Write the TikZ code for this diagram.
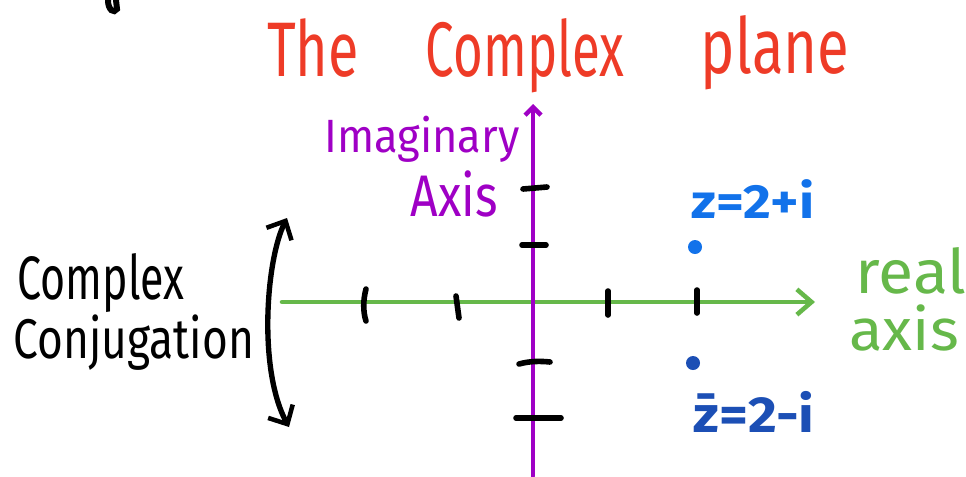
\documentclass[tikz,border=0pt]{standalone}
\usepackage{fontspec}
\setmainfont{Fira Sans}
\usetikzlibrary{arrows.meta}
\definecolor{titlered}{HTML}{EE3B27}
\definecolor{impurple}{HTML}{9F00C5}
\definecolor{regreen}{HTML}{66B84A}
\definecolor{zblue}{HTML}{1272EA}
\definecolor{zbar}{HTML}{1C4FB5}
\newcommand{\sx}[2]{\scalebox{#1}[1]{#2}}
\begin{document}
\begin{tikzpicture}[x=0.75pt,y=-0.75pt,
  lbl/.style={inner sep=0pt,anchor=base},
  titlefont/.style={titlered,font=\fontsize{58}{58}\selectfont},
  tickmark/.style={black,line width=4.2pt,line cap=round},
  axisline/.style={line width=3.4pt,line cap=round},
  barb/.style={-{Straight Barb[length=11pt,width=19pt,line width=3.4pt]}},
  pt/.style={circle,inner sep=0pt,minimum size=10.5pt}]
\useasboundingbox (0,0) rectangle (966,476);

% cropped stroke at top left
\draw[black,line width=4.5pt,line cap=round] (108,0) .. controls (108,10) and (114,14) .. (117,9) -- (116,0);

% title
\node[lbl,titlefont] (tThe) at (313,76) {\sx{0.72}{The}};
\node[lbl,titlefont] (tComplex) at (525,76) {\sx{0.66}{Complex}};
\node[lbl,titlefont] (tPlane) at (775,73) {\sx{0.75}{plane}};

% axes
\coordinate (reStart) at (282,302);
\coordinate (reEnd) at (815,302);
\coordinate (imStart) at (533,476);
\coordinate (imEnd) at (533,104);
\draw[regreen,axisline,barb] (reStart) -- (reEnd);
\draw[impurple,axisline,-{Straight Barb[length=6pt,width=12pt,line width=3.4pt]}] (imStart) -- (imEnd);

% ticks on real axis
\draw[tickmark] (366,289) .. controls (363,300) and (363,312) .. (366,321);
\draw[tickmark] (456,296) -- (459,318);
\draw[tickmark] (608,291) -- (608,315);
\draw[tickmark] (697,290) -- (697,313);
% ticks on imaginary axis
\draw[tickmark] (523,189) -- (547,187);
\draw[tickmark] (522,245) -- (546,245);
\draw[tickmark] (519,364) .. controls (530,361) and (540,361) .. (550,362);
\draw[tickmark] (516,418) -- (561,418);

% axis labels
\node[lbl,impurple,font=\fontsize{35}{35}\selectfont] (imLbl1) at (422,152) {\sx{0.93}{Imaginary}};
\node[lbl,impurple,font=\fontsize{44}{44}\selectfont] (imLbl2) at (454,216) {\sx{0.82}{Axis}};
\node[lbl,regreen,font=\fontsize{46}{46}\selectfont] (reLbl1) at (911,293) {\sx{1.05}{real}};
\node[lbl,regreen,font=\fontsize{44}{44}\selectfont] (reLbl2) at (904,350) {\sx{1.05}{axis}};

% points
\node[pt,fill=zblue] (z) at (695,247) {};
\node[pt,fill=zbar] (zconj) at (693,363) {};
\node[lbl,zblue,font=\fontsize{36}{36}\selectfont\bfseries] (zLbl) at (753,218) {\sx{1.12}{z=2+i}};
\node[lbl,zbar,font=\fontsize{38}{38}\selectfont\bfseries] (zconjLbl) at (754,432) {\sx{1.1}{\=z=2-i}};

% complex conjugation
\node[lbl,black,font=\fontsize{46}{46}\selectfont] (ccLbl1) at (101,299) {\sx{0.7}{Complex}};
\node[lbl,black,font=\fontsize{42}{42}\selectfont] (ccLbl2) at (134,358) {\sx{0.79}{Conjugation}};
\coordinate (ccTop) at (287,218);
\coordinate (ccBot) at (289,427);
\draw[black,line width=4pt,line cap=round,
  {Straight Barb[length=11pt,width=21pt,line width=3.4pt]}-{Straight Barb[length=11pt,width=21pt,line width=3.4pt]}]
  (ccTop) .. controls (266,260) and (258,370) .. (ccBot);
\end{tikzpicture}
\end{document}
